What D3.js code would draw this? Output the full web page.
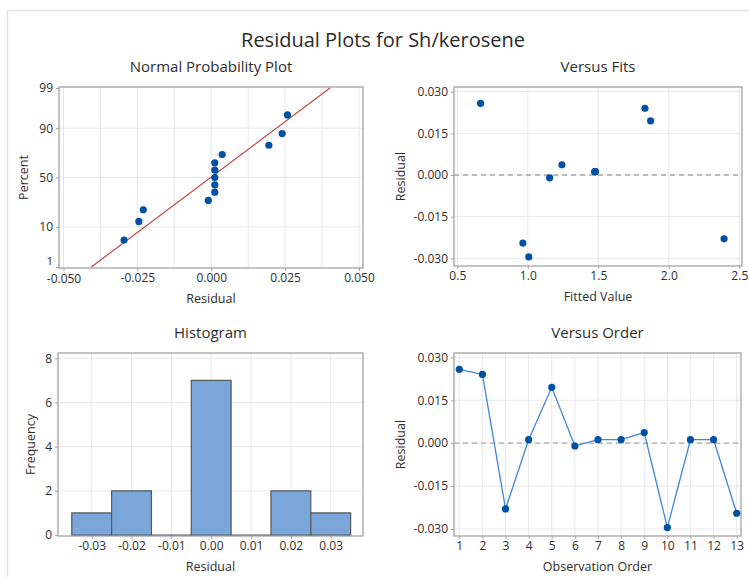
<!DOCTYPE html>
<html>
<head>
<meta charset="utf-8">
<script src="https://cdn.jsdelivr.net/npm/d3@7"></script>
<style>
  body { margin: 0; background: #fff; }
  svg { display: block; font-family: "Open Sans", "Noto Sans", sans-serif; }
</style>
</head>
<body>
<script>
//------------ DATA ----------------------------------------

// residuals by observation order (1..13)
const observations = [1, 2, 3, 4, 5, 6, 7, 8, 9, 10, 11, 12, 13];
const residuals = [0.0258, 0.0240, -0.0230, 0.0012, 0.0195, -0.0010, 0.0012,
                   0.0012, 0.0037, -0.0295, 0.0012, 0.0012, -0.0245];
const fittedValues = [0.665, 1.831, 2.392, 1.477, 1.871, 1.155, 1.477,
                      1.477, 1.242, 1.007, 1.477, 1.477, 0.965];

// normal probability plot: percent for each sorted residual
const nppPercent = [5.2, 12.7, 20.1, 27.6, 35.1, 42.5, 50.0, 57.5, 64.9, 72.4, 79.9, 87.3, 94.8];
const fitMean = -0.0002, fitSigma = 0.01736;   // red reference line
const nppPercentTicks = [1, 10, 50, 90, 99];
const nppResidualTicks = [-0.05, -0.025, 0, 0.025, 0.05];

// histogram
const binCenters = [-0.03, -0.02, -0.01, 0.00, 0.01, 0.02, 0.03];
const binFrequency = [1, 2, 0, 7, 0, 2, 1];
const binWidth = 0.01;
const freqTicks = [0, 2, 4, 6, 8];

const residualTicks = [-0.03, -0.015, 0, 0.015, 0.03];
const fitTicks = [0.5, 1.0, 1.5, 2.0, 2.5];

//------------ GLOBALS --------------------------------------
const width = 749, height = 577;
const pointColor = "#0050a4",
    gridColor = "#e8e8e8",
    frameColor = "#a3a3a3",
    textColor = "#2e2e2e";

// d3.format gives a unicode minus, the chart uses a plain hyphen
function fmt(spec) {
  var f = d3.format(spec);
  return d => f(d).replace("\u2212", "-");
}

// inverse of standard normal cdf (Acklam)
function probit(p) {
  var a = [-3.969683028665376e+01, 2.209460984245205e+02, -2.759285104469687e+02, 1.383577518672690e+02, -3.066479806614716e+01, 2.506628277459239e+00],
      b = [-5.447609879822406e+01, 1.615858368580409e+02, -1.556989798598866e+02, 6.680131188771972e+01, -1.328068155288572e+01],
      c = [-7.784894002430293e-03, -3.223964580411365e-01, -2.400758277161838e+00, -2.549732539343734e+00, 4.374664141464968e+00, 2.938163982698783e+00],
      d = [7.784695709041462e-03, 3.224671290700398e-01, 2.445134137142996e+00, 3.754408661907416e+00];
  var q, r;
  if (p < 0.02425) {
    q = Math.sqrt(-2 * Math.log(p));
    return (((((c[0]*q+c[1])*q+c[2])*q+c[3])*q+c[4])*q+c[5]) / ((((d[0]*q+d[1])*q+d[2])*q+d[3])*q+1);
  }
  if (p > 1 - 0.02425) {
    q = Math.sqrt(-2 * Math.log(1 - p));
    return -(((((c[0]*q+c[1])*q+c[2])*q+c[3])*q+c[4])*q+c[5]) / ((((d[0]*q+d[1])*q+d[2])*q+d[3])*q+1);
  }
  q = p - 0.5; r = q * q;
  return (((((a[0]*r+a[1])*r+a[2])*r+a[3])*r+a[4])*r+a[5])*q / (((((b[0]*r+b[1])*r+b[2])*r+b[3])*r+b[4])*r+1);
}

//-----------SET UP SVG -------------------------------------
var svg = d3.select("body").append("svg")
    .attr("width", width)
    .attr("height", height);

// light window frame
svg.append("path")
    .attr("d", "M7.5,577 V10.5 H749")
    .attr("fill", "none")
    .attr("stroke", "#e2e2e2")
    .attr("stroke-width", 1.5);

svg.append("text")
    .attr("x", 383).attr("y", 47)
    .attr("text-anchor", "middle")
    .attr("font-size", 20)
    .attr("font-weight", 500)
    .attr("fill", "#2b2b2b")
    .text("Residual Plots for Sh/kerosene");

//------------ PANEL HELPERS -------------------------------
function panel(box, title, xTitle, yTitle, yTitleX) {
  var g = svg.append("g");
  g.append("text")
      .attr("x", (box.x0 + box.x1) / 2).attr("y", box.y0 - 15)
      .attr("text-anchor", "middle")
      .attr("font-size", 15)
      .attr("font-weight", 500)
      .attr("fill", textColor)
      .text(title);
  g.append("text")
      .attr("x", (box.x0 + box.x1) / 2).attr("y", box.y1 + 35)
      .attr("text-anchor", "middle")
      .attr("font-size", 12.5)
      .attr("fill", textColor)
      .text(xTitle);
  g.append("text")
      .attr("transform", "translate(" + yTitleX + "," + ((box.y0 + box.y1) / 2) + ") rotate(-90)")
      .attr("text-anchor", "middle")
      .attr("font-size", 12.5)
      .attr("fill", textColor)
      .text(yTitle);
  return g;
}

function gridlines(g, box, xs, xVals, ys, yVals) {
  g.append("g").selectAll("line").data(xVals).join("line")
      .attr("x1", d => xs(d)).attr("x2", d => xs(d))
      .attr("y1", box.y0).attr("y2", box.y1)
      .attr("stroke", gridColor).attr("stroke-width", 1);
  g.append("g").selectAll("line").data(yVals).join("line")
      .attr("x1", box.x0).attr("x2", box.x1)
      .attr("y1", d => ys(d)).attr("y2", d => ys(d))
      .attr("stroke", gridColor).attr("stroke-width", 1);
}

function frame(g, box) {
  g.append("rect")
      .attr("x", box.x0).attr("y", box.y0)
      .attr("width", box.x1 - box.x0).attr("height", box.y1 - box.y0)
      .attr("fill", "none")
      .attr("stroke", frameColor)
      .attr("stroke-width", 1.3);
}

function axes(g, box, xAxis, yAxis) {
  var gx = g.append("g")
      .attr("transform", "translate(0," + box.y1 + ")")
      .call(xAxis.tickSizeInner(3).tickSizeOuter(0).tickPadding(2));
  var gy = g.append("g")
      .attr("transform", "translate(" + box.x0 + ",0)")
      .call(yAxis.tickSizeInner(3).tickSizeOuter(0).tickPadding(3));
  [gx, gy].forEach(function(a) {
    a.attr("font-family", null);
    a.select(".domain").remove();
    a.selectAll(".tick line").attr("stroke", frameColor);
    a.selectAll(".tick text")
        .attr("font-size", 12)
        .attr("fill", textColor);
  });
  return {gx: gx, gy: gy};
}

function dots(g, data, cx, cy) {
  g.append("g").selectAll("circle").data(data).join("circle")
      .attr("cx", cx).attr("cy", cy)
      .attr("r", 3.6)
      .attr("fill", pointColor);
}

function zeroLine(g, box, ys) {
  g.append("line")
      .attr("x1", box.x0).attr("x2", box.x1)
      .attr("y1", ys(0)).attr("y2", ys(0))
      .attr("stroke", "#a8a8a8")
      .attr("stroke-width", 1.3)
      .attr("stroke-dasharray", "5,4");
}

//------------ NORMAL PROBABILITY PLOT ---------------------
(function() {
  var box = {x0: 59, x1: 363, y0: 87, y1: 268};
  var x = d3.scaleLinear().domain([-0.05, 0.05]).range([63.5, 359]);
  var y = d3.scaleLinear().domain([probit(0.01), probit(0.99)]).range([267, 88]);
  var g = panel(box, "Normal Probability Plot", "Residual", "Percent", 28);

  gridlines(g, box, x, d3.range(-0.05, 0.0501, 0.0125), y, [10, 50, 90].map(p => probit(p / 100)));
  frame(g, box);
  var ax = axes(g, box,
      d3.axisBottom(x).tickValues(nppResidualTicks).tickFormat(fmt(".3f")),
      d3.axisLeft(y).tickValues(nppPercentTicks.map(p => probit(p / 100))).tickFormat((d, i) => nppPercentTicks[i]));
  // the "1" sits just above the first x label
  ax.gy.selectAll(".tick text").filter((d, i) => i === 0).attr("font-size", 11.5).attr("dy", "-0.25em");
  ax.gx.selectAll(".tick text").filter((d, i) => i === 0).attr("dy", "0.85em");

  // fitted normal line
  g.append("line")
      .attr("x1", x(fitMean + fitSigma * probit(0.01))).attr("y1", y(probit(0.01)))
      .attr("x2", x(fitMean + fitSigma * probit(0.99))).attr("y2", y(probit(0.99)))
      .attr("stroke", "#bd4b47")
      .attr("stroke-width", 1.2);

  var sorted = d3.sort(residuals);
  dots(g, sorted, d => x(d), (d, i) => y(probit(nppPercent[i] / 100)));
})();

//------------ VERSUS FITS ---------------------------------
(function() {
  var box = {x0: 454, x1: 742, y0: 87, y1: 266};
  var x = d3.scaleLinear().domain([0.5, 2.5]).range([457.3, 739.3]);
  var y = d3.scaleLinear().domain([-0.03, 0.03]).range([258.3, 91.7]);
  var g = panel(box, "Versus Fits", "Fitted Value", "Residual", 405);

  gridlines(g, box, x, fitTicks, y, residualTicks);
  frame(g, box);
  axes(g, box,
      d3.axisBottom(x).tickValues(fitTicks).tickFormat(fmt(".1f")),
      d3.axisLeft(y).tickValues(residualTicks).tickFormat(fmt(".3f")));
  zeroLine(g, box, y);
  dots(g, residuals, (d, i) => x(fittedValues[i]), d => y(d));
})();

//------------ HISTOGRAM -----------------------------------
(function() {
  var box = {x0: 58, x1: 363, y0: 353, y1: 536};
  var x = d3.scaleLinear().domain([-0.03, 0.03]).range([91.7, 330.7]);
  var y = d3.scaleLinear().domain([0, 8]).range([535, 358.3]);
  var g = panel(box, "Histogram", "Residual", "Frequency", 35);

  gridlines(g, box, x, binCenters, y, freqTicks.slice(1));
  frame(g, box);
  axes(g, box,
      d3.axisBottom(x).tickValues(binCenters).tickFormat(fmt(".2f")),
      d3.axisLeft(y).tickValues(freqTicks));

  // paths, so that empty bins still show their base line
  g.append("g").selectAll("path").data(binCenters).join("path")
      .attr("d", function(d, i) {
        var x0 = x(d - binWidth / 2), x1 = x(d + binWidth / 2),
            y0 = y(0), y1 = y(binFrequency[i]);
        return "M" + x0 + "," + y0 + "V" + y1 + "H" + x1 + "V" + y0 + "Z";
      })
      .attr("fill", "#7aa6d9")
      .attr("stroke", "#55595e")
      .attr("stroke-width", 1.2);
})();

//------------ VERSUS ORDER --------------------------------
(function() {
  var box = {x0: 454, x1: 741, y0: 353, y1: 536};
  var x = d3.scaleLinear().domain([1, 13]).range([459.3, 736.7]);
  var y = d3.scaleLinear().domain([-0.03, 0.03]).range([529, 357.3]);
  var g = panel(box, "Versus Order", "Observation Order", "Residual", 405);

  gridlines(g, box, x, observations, y, residualTicks);
  frame(g, box);
  axes(g, box,
      d3.axisBottom(x).tickValues(observations).tickFormat(d3.format("d")),
      d3.axisLeft(y).tickValues(residualTicks).tickFormat(fmt(".3f")));
  zeroLine(g, box, y);

  g.append("path")
      .datum(residuals)
      .attr("d", d3.line().x((d, i) => x(observations[i])).y(d => y(d)))
      .attr("fill", "none")
      .attr("stroke", "#3f86d4")
      .attr("stroke-width", 1.3);
  dots(g, residuals, (d, i) => x(observations[i]), d => y(d));
})();
</script>
</body>
</html>
